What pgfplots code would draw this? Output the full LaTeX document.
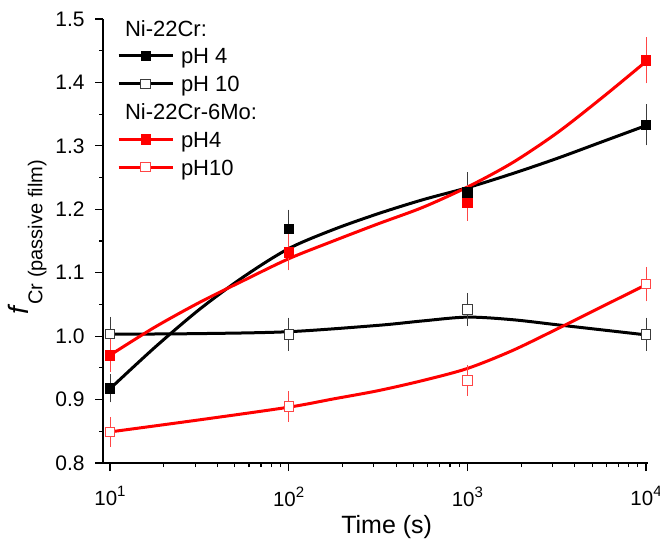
\documentclass[border=0pt]{standalone}
\usepackage{pgfplots}
\pgfplotsset{compat=1.18}
\usepackage{fontspec}
\setmainfont{Liberation Sans}
\newcommand\fs[1]{\fontsize{#1}{#1}\selectfont}
\newcommand\tenpow[1]{10\raisebox{9pt}{\fs{15}#1}}
\definecolor{ebred}{RGB}{255,70,70}
\definecolor{ebblack}{RGB}{60,60,60}
\begin{document}
\begin{tikzpicture}
\begin{axis}[
  at={(103pt,75pt)}, anchor=south west,
  scale only axis, width=545pt, height=444pt,
  xmode=log, xmin=9.14, xmax=10260, ymin=0.8, ymax=1.5,
  clip=false,
  axis x line*=bottom, axis y line*=left,
  axis line style={line width=1.3pt, -},
  tick align=outside, major tick length=8pt, minor tick length=4pt,
  every tick/.style={black, line width=1.1pt},
  xtick={10,100,1000,10000},
  xticklabels={\tenpow{1},\tenpow{2},\tenpow{3},\tenpow{4}},
  ytick={0.8,0.9,1.0,1.1,1.2,1.3,1.4,1.5},
  yticklabels={0.8,0.9,1.0,1.1,1.2,1.3,1.4,1.5},
  minor ytick={0.85,0.95,1.05,1.15,1.25,1.35,1.45},
  tick label style={font=\fs{21}},
  xticklabel style={yshift=-12pt, font=\fs{20.5}},
  yticklabel style={xshift=-7pt},
  xlabel={Time (s)},
  xlabel style={font=\fs{25}, at={(axis description cs:0.5205,-0.1585)}, anchor=base},
  ylabel={{\fs{28}\textit{f}}\raisebox{-14pt}{\fs{20}Cr (passive film)}},
  ylabel style={at={(axis description cs:-0.137,0.508)}, anchor=base, rotate=0},
  legend style={draw=none, fill=none, at={(axis description cs:0.0257,0.9977)}, anchor=north west,
    font=\fs{22}, inner sep=0pt, outer sep=0pt, row sep=11.8pt, column sep=7pt,
    nodes={text height=16pt, text depth=0pt, inner sep=0pt}},
  legend cell align=left,
  legend image code/.code={\draw[mark repeat=2, mark phase=2, #1] plot coordinates {(0pt,0pt) (27pt,0pt) (54pt,0pt)};},
]
% fitted curves
\addplot[black, line width=3pt, smooth, tension=0.5, forget plot] coordinates {
(10,0.917) (17.78,0.982) (31.62,1.042) (56.23,1.094) (100,1.138) (177.8,1.168) (316.2,1.193) (562.3,1.215)
(1000,1.234) (1778,1.256) (3162,1.280) (5623,1.306) (10000,1.332)};
\addplot[black, line width=3pt, smooth, tension=0.5, forget plot] coordinates {
(10,1.003) (31.62,1.004) (100,1.007) (316.2,1.017) (562.3,1.024) (1000,1.030) (1778,1.026) (3162,1.018) (5623,1.010) (10000,1.002)};
\addplot[red, line width=3pt, smooth, tension=0.5, forget plot] coordinates {
(10,0.970) (17.78,1.014) (31.62,1.053) (56.23,1.088) (100,1.122) (177.8,1.150) (316.2,1.177) (562.3,1.203)
(1000,1.235) (1778,1.273) (3162,1.320) (5623,1.375) (10000,1.433)};
\addplot[red, line width=3pt, smooth, tension=0.5, forget plot] coordinates {
(10,0.849) (31.62,0.868) (100,0.888) (177.8,0.901) (316.2,0.914) (562.3,0.930) (1000,0.949) (1778,0.977) (3162,1.011) (5623,1.046) (10000,1.081)};
% measured points
\addplot[only marks, mark=square*, mark size=4.7pt, mark options={fill=black, draw=black, line width=0.6pt}, forget plot,
  error bars/.cd, y dir=both, y explicit, error bar style={ebblack, line width=0.8pt}, error mark options={ebblack, line width=0.8pt, mark size=4pt}]
  table[x=x, y=y, y error=e] {
x y e
10 0.918 0.016
100 1.169 0.024
1000 1.227 0.025
10000 1.333 0.026
};
\addplot[only marks, mark=square*, mark size=4.7pt, mark options={fill=white, draw=ebblack, line width=0.8pt}, forget plot,
  error bars/.cd, y dir=both, y explicit, error bar style={ebblack, line width=0.8pt}, error mark options={ebblack, line width=0.8pt, mark size=4pt}]
  table[x=x, y=y, y error=e] {
x y e
10 1.004 0.020
100 1.003 0.020
1000 1.042 0.020
10000 1.003 0.020
};
\addplot[only marks, mark=square*, mark size=4.7pt, mark options={fill=red, draw=red, line width=0.6pt}, forget plot,
  error bars/.cd, y dir=both, y explicit, error bar style={ebred, line width=0.8pt}, error mark options={ebred, line width=0.8pt, mark size=4pt}]
  table[x=x, y=y, y error=e] {
x y e
10 0.970 0.020
100 1.132 0.022
1000 1.210 0.022
10000 1.435 0.030
};
\addplot[only marks, mark=square*, mark size=4.7pt, mark options={fill=white, draw=ebred, line width=0.8pt}, forget plot,
  error bars/.cd, y dir=both, y explicit, error bar style={ebred, line width=0.8pt}, error mark options={ebred, line width=0.8pt, mark size=4pt}]
  table[x=x, y=y, y error=e] {
x y e
10 0.849 0.017
100 0.889 0.018
1000 0.930 0.018
10000 1.082 0.021
};
% legend
\addlegendimage{empty legend}
\addlegendentry{\hspace*{-56pt}Ni-22Cr:}
\addlegendimage{black, line width=3pt, mark=square*, mark size=4.7pt, mark options={fill=black, draw=black, line width=0.6pt}}
\addlegendentry{pH 4}
\addlegendimage{black, line width=3pt, mark=square*, mark size=4.7pt, mark options={fill=white, draw=ebblack, line width=0.8pt}}
\addlegendentry{pH 10}
\addlegendimage{empty legend}
\addlegendentry{\hspace*{-56pt}Ni-22Cr-6Mo:}
\addlegendimage{red, line width=3pt, mark=square*, mark size=4.7pt, mark options={fill=red, draw=red, line width=0.6pt}}
\addlegendentry{pH4}
\addlegendimage{red, line width=3pt, mark=square*, mark size=4.7pt, mark options={fill=white, draw=ebred, line width=0.8pt}}
\addlegendentry{pH10}
\end{axis}
\pgfresetboundingbox
\path[use as bounding box] (0pt,0pt) rectangle (660pt,538pt);
\end{tikzpicture}
\end{document}
